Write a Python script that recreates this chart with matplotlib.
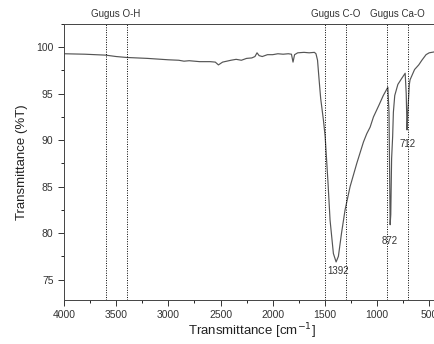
import numpy as np
import matplotlib
matplotlib.use("Agg")
import matplotlib.pyplot as plt
from matplotlib.ticker import MultipleLocator

plt.rcParams['font.family'] = ['Liberation Sans', 'DejaVu Sans']

# FTIR spectrum (wavenumber cm-1, %T)
wavenumber = [4000, 3800, 3600, 3500, 3400, 3200, 3000, 2900, 2850, 2800,
              2700, 2600, 2550, 2520, 2480, 2400, 2350, 2300, 2250, 2200,
              2170, 2150, 2130, 2100, 2050, 2000, 1950, 1900, 1850, 1820,
              1805, 1790, 1760, 1700, 1650, 1600, 1585, 1570, 1555, 1540,
              1514, 1497, 1470, 1450, 1418, 1392, 1370, 1340, 1306, 1258,
              1194, 1130, 1098, 1066, 1034, 980, 940, 896, 885, 874,
              868, 860, 850, 843, 830, 800, 760, 730, 720, 712,
              705, 690, 683, 640, 600, 570, 530, 500, 450, 400]
transmittance = [99.3, 99.25, 99.15, 99.0, 98.9, 98.8, 98.65, 98.6, 98.5, 98.55,
                 98.45, 98.45, 98.4, 98.1, 98.4, 98.6, 98.7, 98.6, 98.8, 98.85,
                 99.0, 99.4, 99.1, 99.0, 99.2, 99.2, 99.3, 99.25, 99.3, 99.25,
                 98.4, 99.2, 99.4, 99.45, 99.4, 99.45, 99.3, 98.6, 96.5, 94.5,
                 92.2, 90.4, 85.5, 81.4, 77.8, 76.9, 77.5, 80.0, 82.5, 85.0,
                 87.5, 89.8, 90.7, 91.4, 92.5, 93.8, 94.8, 95.7, 93.0, 80.9,
                 82.0, 88.0, 90.4, 93.0, 94.8, 96.0, 96.7, 97.2, 95.0, 91.1,
                 93.0, 96.0, 96.5, 97.6, 98.1, 98.6, 99.2, 99.4, 99.5, 99.5]

group_lines = [3600, 3400, 1500, 1300, 900, 700]
group_labels = ["Gugus O-H", "Gugus C-O", "Gugus Ca-O"]
group_centers = [3500, 1400, 800]

peak_labels = ["1392", "872", "712"]
peak_pos = [(1370, 75.9), (874, 79.2), (708, 89.6)]

fig = plt.figure(figsize=(4.34, 3.44), dpi=100)
ax = fig.add_axes([0.1475, 0.1279, 0.8654, 0.8023])

ax.plot(wavenumber, transmittance, color="#555555", lw=0.85)

for x in group_lines:
    ax.axvline(x, color="black", ls=(0, (1, 1.5)), lw=0.7)

trans = ax.get_xaxis_transform()
for lab, xc in zip(group_labels, group_centers):
    ax.text(xc, 1.036, lab, transform=trans, ha="center", va="center",
            fontsize=7, color="#333333")

for lab, (x, y) in zip(peak_labels, peak_pos):
    ax.text(x, y, lab, ha="center", va="center", fontsize=7, color="#333333")

ax.set_xlim(4000, 400)
ax.set_ylim(72.8, 102.5)
ax.xaxis.set_major_locator(MultipleLocator(500))
ax.xaxis.set_minor_locator(MultipleLocator(250))
ax.yaxis.set_major_locator(MultipleLocator(5))
ax.yaxis.set_minor_locator(MultipleLocator(2.5))
ax.set_yticks([75, 80, 85, 90, 95, 100])
ax.tick_params(which="major", direction="out", length=4, width=0.7,
               labelsize=7.5, colors="#333333")
ax.tick_params(which="minor", direction="out", length=2.5, width=0.6)
for s in ax.spines.values():
    s.set_linewidth(0.7)
    s.set_color("#444444")

ax.set_xlabel("Transmittance [cm$^{-1}$]", fontsize=9.5, color="#222222",
              labelpad=1)
ax.set_ylabel("Transmittance (%T)", fontsize=9.5, color="#222222",
              labelpad=6)

fig.savefig("out.png", dpi=100)
